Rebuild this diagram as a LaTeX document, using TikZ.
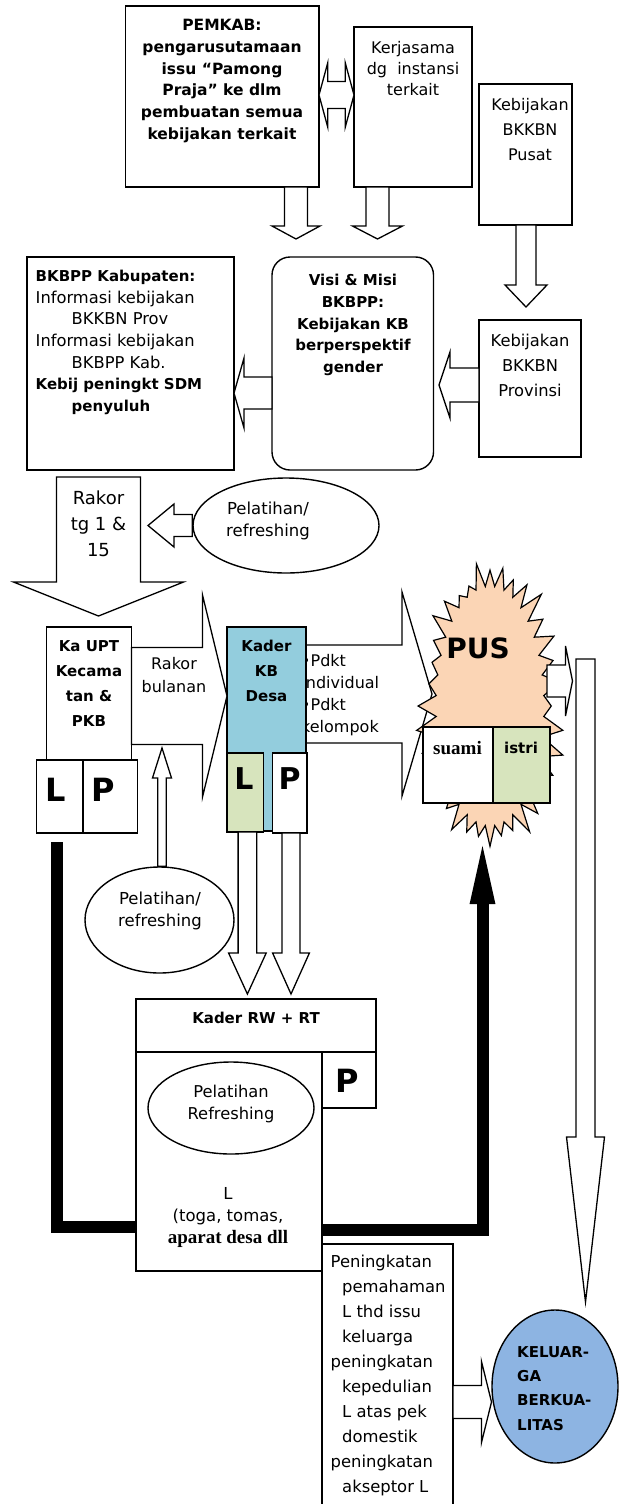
\documentclass[tikz,border=0pt]{standalone}
\usepackage{fontspec}
\setmainfont{DejaVu Sans}
\newfontfamily\serifbold{Liberation Serif}
\usetikzlibrary{%
  calc,%
  shapes.geometric,%
  shapes.symbols,%
  arrows.meta%
}
\definecolor{kaderblue}{HTML}{93CDDD}
\definecolor{lgreen}{HTML}{D7E4BD}
\definecolor{puspeach}{HTML}{FBD5B5}
\definecolor{kelblue}{HTML}{8DB4E2}

\newcommand{\fs}[2]{\fontsize{#1}{#2}\selectfont}
\newcommand{\bx}[1]{{\fs{15}{21.7}\bfseries #1}}

% block arrow: [style] from, to, shaft half width, head half width, head length
\newcommand{\blockarrow}[6][]{%
  \coordinate (hb) at ($(#3)!#6!(#2)$);
  \draw[blockarr,#1] ($(#2)!#4!90:(#3)$) -- ($(hb)!#4!-90:(#2)$) -- ($(hb)!#5!-90:(#2)$) -- (#3)
    -- ($(hb)!#5!90:(#2)$) -- ($(hb)!#4!90:(#2)$) -- ($(#2)!#4!-90:(#3)$) -- cycle;
}
% block arrow with two heads
\newcommand{\doublearrow}[5]{%
  \coordinate (hba) at ($(#1)!#5!(#2)$);
  \coordinate (hbb) at ($(#2)!#5!(#1)$);
  \draw[blockarr] (#1) -- ($(hba)!#4!90:(#2)$) -- ($(hba)!#3!90:(#2)$) -- ($(hbb)!#3!-90:(#1)$)
    -- ($(hbb)!#4!-90:(#1)$) -- (#2) -- ($(hbb)!#4!90:(#1)$) -- ($(hbb)!#3!90:(#1)$)
    -- ($(hba)!#3!-90:(#2)$) -- ($(hba)!#4!-90:(#2)$) -- cycle;
}

\tikzset{
  box/.style={draw, line width=1.4pt, inner sep=0pt, outer sep=0pt, anchor=north west},
  blockarr/.style={draw, line width=1.3pt, fill=white, line join=miter},
  txt/.style={inner sep=0pt, align=center},
  oval/.style={ellipse, draw, line width=1.4pt, fill=white, inner sep=0pt},
  thickline/.style={line width=12pt, line join=miter},
  bigletter/.style={inner sep=0pt, font=\fs{32}{32}\bfseries}
}

\begin{document}
\begin{tikzpicture}[x=1pt,y=-1pt]
\useasboundingbox (0,0) rectangle (619,1504);

% top row
\node[box, minimum width=193.5pt, minimum height=181pt] (pemkab) at (125.5,6) {};
\node[txt, font=\fs{15.5}{21.7}\bfseries] (pemkabtxt) at (222,81)
  {PEMKAB:\\pengarusutamaan\\issu “Pamong\\Praja” ke dlm\\pembuatan semua\\kebijakan terkait};
\node[box, minimum width=118pt, minimum height=160pt] (kerja) at (354,27) {};
\node[txt, font=\fs{16}{21}] (kerjatxt) at (413,69) {Kerjasama\\dg~ instansi\\terkait};
\node[box, minimum width=93pt, minimum height=141pt] (pusat) at (479,84) {};
\node[txt, font=\fs{16}{25}] (pusattxt) at (530,130) {Kebijakan\\BKKBN\\Pusat};

\coordinate (pk1) at (pemkab.east |- 0,95);
\coordinate (pk2) at (kerja.west |- 0,95);
\doublearrow{pk1}{pk2}{13.5pt}{32pt}{8.7pt}
\coordinate (d1s) at (296,0 |- pemkab.south);
\coordinate (d1e) at (296,239);
\blockarrow{d1s}{d1e}{11.5pt}{24pt}{13pt}
\coordinate (d2s) at (377.5,0 |- kerja.south);
\coordinate (d2e) at (377.5,239);
\blockarrow{d2s}{d2e}{11.5pt}{25pt}{13pt}
\coordinate (d3s) at (526,0 |- pusat.south);
\coordinate (d3e) at (526,307);
\blockarrow{d3s}{d3e}{10pt}{21pt}{22pt}

% second row
\node[box, minimum width=207pt, minimum height=213pt] (bkbpp) at (27,257) {};
\node[txt, align=left, anchor=west, font=\fs{16.3}{21.7}] (bkbpptxt) at (35.5,342.5)
  {\bx{BKBPP Kabupaten:}\\Informasi kebijakan\\\hspace*{36pt}BKKBN Prov\\Informasi kebijakan\\
   \hspace*{36pt}BKBPP Kab.\\\bx{Kebij peningkt SDM}\\\hspace*{36pt}\bx{penyuluh}};
\node[box, rounded corners=18pt, minimum width=161.5pt, minimum height=213pt] (visi) at (272,257) {};
\node[txt, font=\fs{15}{21.7}\bfseries] (visitxt) at (353,325)
  {Visi \& Misi\\BKBPP:\\Kebijakan KB\\berperspektif\\gender};
\node[box, minimum width=102pt, minimum height=137pt] (prov) at (479,320) {};
\node[txt, font=\fs{16.3}{25}] (provtxt) at (530,365) {Kebijakan\\BKKBN\\Provinsi};

\coordinate (l1s) at (visi.west |- 0,393);
\coordinate (l1e) at (bkbpp.east |- 0,393);
\blockarrow{l1s}{l1e}{16pt}{35pt}{10pt}
\coordinate (l2s) at (prov.west |- 0,385);
\coordinate (l2e) at (439,385);
\blockarrow{l2s}{l2e}{17pt}{33pt}{11pt}

% rakor
\coordinate (rks) at (98.5,477);
\coordinate (rke) at (98.5,616);
\blockarrow{rks}{rke}{42pt}{85pt}{34pt}
\node[txt, font=\fs{18}{26}] (rakortxt) at (98.5,524) {Rakor\\tg 1 \&\\15};
\node[oval, minimum width=186pt, minimum height=95pt] (pel1) at (286,525.5) {};
\node[txt, font=\fs{16.5}{22}] (pel1txt) at (268,521) {Pelatihan/\\refreshing};
\coordinate (l3s) at (pel1.west);
\coordinate (l3e) at (148,0 |- pel1.west);
\blockarrow{l3s}{l3e}{11pt}{21.5pt}{26pt}

% kecamatan
\node[box, minimum width=84.9pt, minimum height=133pt] (kaupt) at (46.6,627) {};
\node[txt, font=\fs{15}{25}\bfseries] (kaupttxt) at (89,684) {Ka UPT\\Kecama\\tan \&\\PKB};
\node[box, minimum width=46.3pt, minimum height=73pt] (lpl) at (36.7,760) {};
\node[box, minimum width=54.4pt, minimum height=73pt] (lpp) at (83,760) {};
\node[bigletter] (lpltxt) at (56,790) {L};
\node[bigletter] (lpptxt) at (103,790) {P};

% kader KB desa
\node[txt, align=left, anchor=west, font=\fs{16}{22}] (pdkttxt) at (301,695)
  {•Pdkt\\Individual\\•Pdkt\\kelompok};
\node[box, fill=kaderblue, minimum width=79pt, minimum height=204pt] (kader) at (227,627) {};
\node[txt, font=\fs{15}{25}\bfseries] (kadertxt) at (266.5,671) {Kader\\KB\\Desa};
\node[box, fill=lgreen, minimum width=36.7pt, minimum height=79pt] (kaderl) at (227,753) {};
\node[box, fill=white, minimum width=34.6pt, minimum height=80pt] (kaderp) at (272.4,753) {};
\node[bigletter, font=\fs{30}{30}\bfseries] (kaderltxt) at (244,779) {L};
\node[bigletter, font=\fs{30}{30}\bfseries] (kaderptxt) at (289.7,779) {P};

\coordinate (rbs) at (kaupt.east |- 0,696);
\coordinate (rbe) at (kader.west |- 0,696);
\blockarrow{rbs}{rbe}{48.5pt}{101pt}{24.5pt}
\node[txt, font=\fs{16}{23.5}] (rbtxt) at (174,675) {Rakor\\bulanan};
\coordinate (pds) at (kader.east |- 0,694);
\coordinate (pde) at (432,694);
\blockarrow[fill=none]{pds}{pde}{49pt}{102pt}{30pt}

% PUS
\node[starburst, draw, fill=puspeach, line width=1.2pt, inner sep=0pt,
  minimum width=160pt, minimum height=292pt, starburst points=36,
  starburst point height=26pt, random starburst=5] (pus) at (490,706) {};
\node[txt, font=\fs{28}{28}\bfseries] (pustxt) at (478,648) {PUS};
\node[box, fill=white, minimum width=70pt, minimum height=76pt] (suami) at (423,727) {};
\node[box, fill=lgreen, minimum width=57pt, minimum height=76pt] (istri) at (493,727) {};
\node[txt, font=\serifbold\bfseries\fs{19}{19}] (suamitxt) at (457.5,748) {suami};
\node[txt, font=\fs{15}{15}\bfseries] (istritxt) at (521,748) {istri};
\coordinate (p1s) at (547,681);
\coordinate (p1e) at (572.5,681);
\blockarrow{p1s}{p1e}{16pt}{35pt}{7pt}
\coordinate (lgs) at (585.5,659);
\coordinate (lge) at (585.5,1302);
\blockarrow{lgs}{lge}{9.5pt}{19pt}{165pt}

% pelatihan under kecamatan
\node[oval, minimum width=149pt, minimum height=106pt] (pel2) at (159.5,920) {};
\node[txt, font=\fs{16.5}{22}] (pel2txt) at (160,911) {Pelatihan/\\refreshing};
\coordinate (u1s) at (162,0 |- pel2.north);
\coordinate (u1e) at (162,748);
\blockarrow{u1s}{u1e}{4.3pt}{9.5pt}{30pt}

\coordinate (k1s) at (247.4,0 |- kaderl.south);
\coordinate (k1e) at (247.4,994);
\blockarrow{k1s}{k1e}{9.3pt}{18.8pt}{41pt}
\coordinate (k2s) at (291,0 |- kaderp.south);
\coordinate (k2e) at (291,994);
\blockarrow{k2s}{k2e}{9pt}{18.4pt}{41pt}

% kader RW + RT
\node[box, minimum width=240pt, minimum height=53pt] (rwtop) at (136,999) {};
\node[txt, font=\fs{15}{15}\bfseries] (rwtoptxt) at (256,1018) {Kader RW + RT};
\node[box, minimum width=186pt, minimum height=219pt] (rwbody) at (136,1052) {};
\node[box, minimum width=54pt, minimum height=56pt] (rwp) at (322,1052) {};
\node[bigletter] (rwptxt) at (347,1081) {P};
\node[oval, minimum width=166pt, minimum height=92pt] (pel3) at (231,1108) {};
\node[txt, font=\fs{16.3}{22.3}] (pel3txt) at (231,1104) {Pelatihan\\Refreshing};
\node[txt, font=\fs{16.5}{22}] (ltxt) at (228,1217)
  {L\\(toga, tomas,\\{\serifbold\bfseries\fs{19}{22}aparat desa dll}};

% thick connectors
\coordinate (tl) at (57,842);
\draw[thickline] (tl) |- (rwbody.west |- 0,1227);
\coordinate (pusin) at (482.5,834);
\draw[thickline, -{Triangle[width=21.5pt,length=70pt]}] (rwbody.east |- 0,1229.5) -| (pusin);

% outcome
\node[box, minimum width=131pt, minimum height=280pt] (pen) at (322,1244) {};
\node[txt, align=left, anchor=west, font=\fs{16.4}{25}] (pentxt) at (330.5,1375.8)
  {Peningkatan\\\hspace*{11.5pt}pemahaman\\\hspace*{11.5pt}L thd issu\\\hspace*{11.5pt}keluarga\\
   peningkatan\\\hspace*{11.5pt}kepedulian\\\hspace*{11.5pt}L atas pek\\\hspace*{11.5pt}domestik\\
   peningkatan\\\hspace*{11.5pt}akseptor L};
\node[oval, fill=kelblue, minimum width=126pt, minimum height=153pt] (kel) at (555,1386.5) {};
\node[txt, align=left, anchor=west, font=\fs{15}{24.4}\bfseries] (keltxt) at (517,1388.3)
  {KELUAR-\\GA\\BERKUA-\\LITAS};
\coordinate (p2s) at (pen.east |- 0,1402);
\coordinate (p2e) at (491.5,1402);
\blockarrow{p2s}{p2e}{16.5pt}{40.5pt}{10pt}
\end{tikzpicture}
\end{document}
